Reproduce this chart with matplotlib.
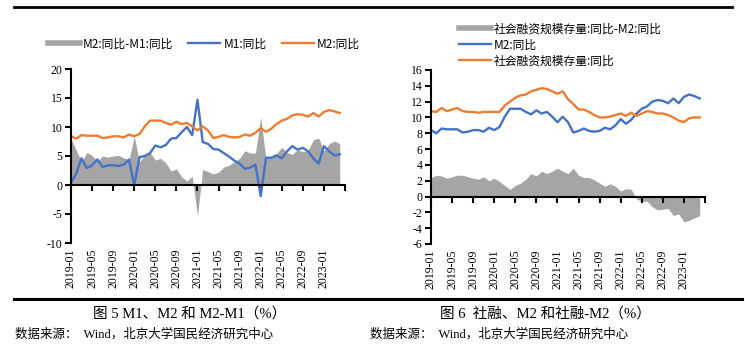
import numpy as np
import matplotlib
matplotlib.use("Agg")
import matplotlib.pyplot as plt
from matplotlib.lines import Line2D

plt.rcParams["axes.unicode_minus"] = False

# monthly data, 2019-01 .. 2023-04
months = ["%d-%02d" % (y, m) for y in range(2019, 2024) for m in range(1, 13)][:52]

m2 = [8.4, 8.0, 8.6, 8.5, 8.5, 8.5, 8.1, 8.2, 8.4, 8.4, 8.2, 8.7,
      8.4, 8.8, 10.1, 11.1, 11.1, 11.1, 10.7, 10.4, 10.9, 10.5, 10.7, 10.1,
      9.4, 10.1, 9.4, 8.1, 8.3, 8.6, 8.3, 8.2, 8.3, 8.7, 8.5, 9.0,
      9.8, 9.2, 9.7, 10.5, 11.1, 11.4, 12.0, 12.2, 12.1, 11.8, 12.4, 11.8,
      12.6, 12.9, 12.7, 12.4]
m1 = [0.4, 2.0, 4.6, 2.9, 3.4, 4.4, 3.1, 3.4, 3.4, 3.3, 3.5, 4.4,
      0.0, 4.8, 5.0, 5.5, 6.8, 6.5, 6.9, 8.0, 8.1, 9.1, 10.0, 8.6,
      14.7, 7.4, 7.1, 6.2, 6.1, 5.5, 4.9, 4.2, 3.7, 2.8, 3.0, 3.5,
      -1.9, 4.7, 4.7, 5.1, 4.6, 5.8, 6.7, 6.1, 6.4, 5.8, 4.6, 3.7,
      6.7, 5.8, 5.1, 5.3]
m2_m1 = [8.0, 6.0, 4.0, 5.6, 5.1, 4.1, 5.0, 4.8, 5.0, 5.1, 4.7, 4.3,
         8.4, 4.0, 5.1, 5.6, 4.3, 4.6, 3.8, 2.4, 2.8, 1.4, 0.7, 1.5,
         -5.3, 2.7, 2.3, 1.9, 2.2, 3.1, 3.4, 4.0, 4.6, 5.9, 5.5, 5.5,
         11.7, 4.5, 5.0, 5.4, 6.5, 5.6, 5.3, 6.1, 5.7, 6.0, 7.8, 8.1,
         5.9, 7.1, 7.6, 7.1]
tsf = [10.8, 10.7, 11.2, 10.8, 11.0, 11.2, 10.8, 10.7, 10.7, 10.6, 10.7, 10.7,
       10.7, 10.7, 11.5, 12.0, 12.5, 12.8, 12.9, 13.3, 13.5, 13.7, 13.6, 13.3,
       13.0, 13.3, 12.3, 11.7, 11.0, 11.0, 10.7, 10.3, 10.0, 10.0, 10.1, 10.3,
       10.5, 10.2, 10.6, 10.2, 10.5, 10.8, 10.7, 10.5, 10.5, 10.3, 10.0, 9.6,
       9.4, 9.9, 10.0, 10.0]
tsf_m2 = [2.4, 2.7, 2.6, 2.3, 2.5, 2.7, 2.7, 2.5, 2.3, 2.2, 2.5, 2.0,
          2.3, 1.9, 1.4, 0.9, 1.4, 1.7, 2.2, 2.9, 2.6, 3.2, 2.9, 3.2,
          3.6, 3.2, 2.9, 3.6, 2.7, 2.4, 2.4, 2.1, 1.7, 1.3, 1.6, 1.3,
          0.7, 1.0, 0.9, -0.3, -0.6, -0.6, -1.3, -1.7, -1.6, -1.5, -2.4, -2.2,
          -3.2, -3.0, -2.7, -2.4]

GREY = "#a5a5a5"
BLUE = "#4472c4"
ORANGE = "#ed7d31"
CJK = ["Noto Sans CJK SC", "DejaVu Sans"]
SERIF = ["Liberation Serif", "Noto Sans CJK SC"]

W, H = 745, 356
fig = plt.figure(figsize=(W / 100, H / 100), dpi=100)


def px(x0, y0, x1, y1):
    # pixel box (top-left origin) -> figure fraction rect
    return [x0 / W, 1 - y1 / H, (x1 - x0) / W, (y1 - y0) / H]


def panel(rect, area, line1, line2, ylim, ystep):
    ax = fig.add_axes(rect)
    x = np.arange(len(months))
    ax.fill_between(x, 0, area, color=GREY, lw=0)
    ax.plot(x, line1, color=BLUE, lw=1.7)
    ax.plot(x, line2, color=ORANGE, lw=1.7)
    ax.set_xlim(0, 52)
    ax.set_ylim(*ylim)
    ax.set_yticks(np.arange(ylim[0], ylim[1] + 0.1, ystep))
    for s in ["top", "right"]:
        ax.spines[s].set_visible(False)
    ax.spines["left"].set_linewidth(1.5)
    ax.spines["bottom"].set_linewidth(1.5)
    ax.spines["bottom"].set_position(("data", 0))
    ax.tick_params(axis="y", direction="out", length=4, width=1.5, pad=2,
                   labelsize=8.5)
    ticks = np.arange(0, 53, 4)
    ax.set_xticks(ticks)
    ax.tick_params(axis="x", direction="out", length=4, width=1.5,
                   labelbottom=False)
    for lab in ax.get_yticklabels():
        lab.set_fontfamily(SERIF)
    # date labels sit at the bottom of the plot, not at the zero line
    sec = ax.secondary_xaxis("bottom")
    sec.set_xticks(ticks[:-1], [months[i] for i in ticks[:-1]])
    sec.tick_params(length=0, pad=4, labelsize=8.5, labelrotation=90)
    sec.spines["bottom"].set_visible(False)
    for lab in sec.get_xticklabels():
        lab.set_fontfamily(SERIF)
    return ax


ax1 = panel(px(71, 69, 345, 243), m2_m1, m1, m2, (-10, 20), 5)
ax2 = panel(px(431, 70, 705, 244), tsf_m2, m2, tsf, (-6, 16), 2)

h_area = Line2D([], [], color=GREY, lw=4)
h_blue = Line2D([], [], color=BLUE, lw=1.7)
h_orange = Line2D([], [], color=ORANGE, lw=1.7)

fig.legend([h_area, h_blue, h_orange], ["M2:同比-M1:同比", "M1:同比", "M2:同比"],
           loc="center left", bbox_to_anchor=(42 / W, 1 - 44 / H), ncol=3,
           frameon=False, borderpad=0, handlelength=2.7, handletextpad=0.25,
           columnspacing=1.3, prop={"family": CJK, "size": 8.5})
fig.legend([h_area, h_blue, h_orange],
           ["社会融资规模存量:同比-M2:同比", "M2:同比", "社会融资规模存量:同比"],
           loc="center left", bbox_to_anchor=(453 / W, 1 - 45 / H), ncol=1,
           frameon=False, borderpad=0, handlelength=2.7, handletextpad=0.25,
           labelspacing=0.25, prop={"family": CJK, "size": 8.5})

# horizontal rules
fig.add_artist(Line2D([14 / W, 732 / W], [1 - 7 / H] * 2, color="black", lw=2))
fig.add_artist(Line2D([14 / W, 742 / W], [1 - 299 / H] * 2, color="black", lw=2.2))

fig.text(190 / W, 1 - 314 / H, "图 5 M1、M2 和 M2-M1（%）", ha="center", va="center",
         family=SERIF, size=10.5)
fig.text(545 / W, 1 - 314 / H, "图 6  社融、M2 和社融-M2（%）", ha="center", va="center",
         family=SERIF, size=10.5)
fig.text(15 / W, 1 - 334 / H, "数据来源：  Wind，北京大学国民经济研究中心", ha="left",
         va="center", family=SERIF, size=9)
fig.text(370 / W, 1 - 334 / H, "数据来源：  Wind，北京大学国民经济研究中心", ha="left",
         va="center", family=SERIF, size=9)

fig.savefig("out.png", dpi=100)
